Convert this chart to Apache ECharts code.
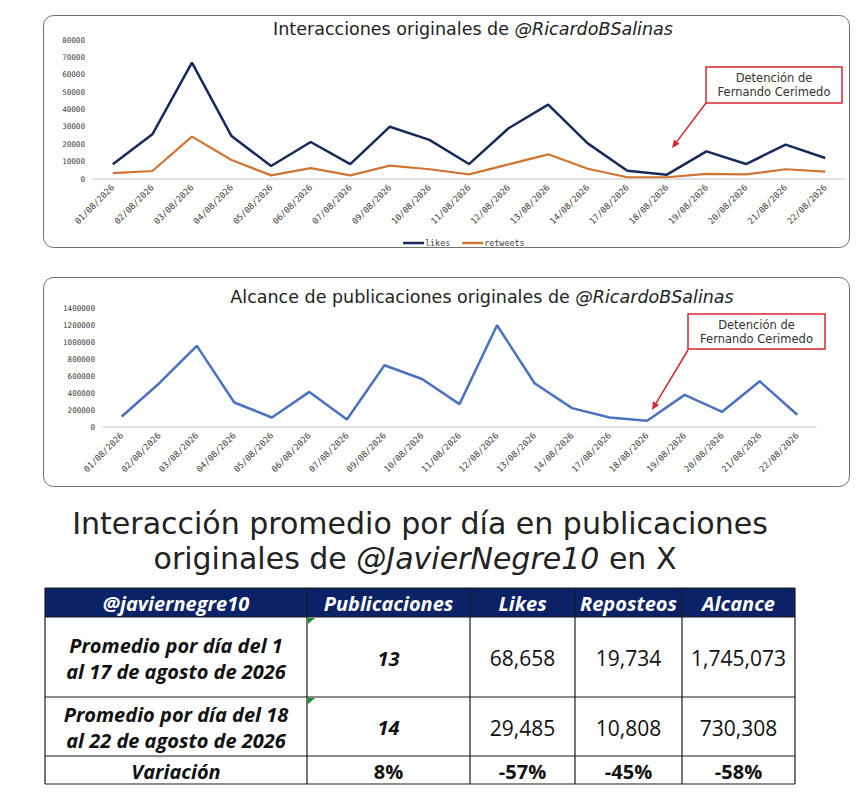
<!DOCTYPE html>
<html>
<head>
<meta charset="utf-8">
<script src="https://cdn.jsdelivr.net/npm/echarts@6/dist/echarts.min.js"></script>
<style>
  html, body { margin: 0; padding: 0; background: #fff; }
  #main { width: 867px; height: 800px; }
</style>
</head>
<body>
<div id="main"></div>
<script>
// fechas del eje x (no hay 08, 15 ni 16)
const dates = ['01/08/2026', '02/08/2026', '03/08/2026', '04/08/2026', '05/08/2026', '06/08/2026', '07/08/2026',
  '09/08/2026', '10/08/2026', '11/08/2026', '12/08/2026', '13/08/2026', '14/08/2026', '17/08/2026',
  '18/08/2026', '19/08/2026', '20/08/2026', '21/08/2026', '22/08/2026']

// interacciones
const likes = [8500, 25700, 67000, 24700, 7500, 21300, 8600, 30100, 22500, 8600, 29200, 42800, 20500, 4800, 2500, 15900, 8600, 19800, 12100]
const retweets = [3400, 4600, 24400, 10900, 2100, 6300, 2100, 7700, 5600, 2700, 8400, 14200, 5900, 1000, 1000, 3000, 2700, 5600, 4200]

// alcance
const alcance = [124000, 515000, 955000, 288000, 112000, 413000, 89000, 726000, 565000, 269000, 1197000, 515000, 222000, 112000, 74000, 378000, 179000, 538000, 144000]

// tabla
const tableHeader = ['@javiernegre10', 'Publicaciones', 'Likes', 'Reposteos', 'Alcance']
const rowLabels = [
  ['Promedio por día del 1', 'al 17 de agosto de 2026'],
  ['Promedio por día del 18', 'al 22 de agosto de 2026'],
  ['Variación']
]
const publicaciones = ['13', '14', '8%']
const likesAvg = ['68,658', '29,485', '-57%']
const reposteos = ['19,734', '10,808', '-45%']
const alcanceAvg = ['1,745,073', '730,308', '-58%']

const mono = 'DejaVu Sans Mono'
const sans = 'DejaVu Sans'
const axisGray = '#404040'
const red = '#d9252f'

const chart = echarts.init(document.getElementById('main'), null, { renderer: 'svg' })

// flecha roja de la anotación
function arrow(x1, y1, x2, y2) {
  const ang = Math.atan2(y2 - y1, x2 - x1)
  const len = 8
  const w = 3.5
  const bx = x2 - len * Math.cos(ang)
  const by = y2 - len * Math.sin(ang)
  return [{
    type: 'line',
    shape: { x1, y1, x2: bx, y2: by },
    style: { stroke: red, lineWidth: 1.5 }
  }, {
    type: 'polygon',
    shape: {
      points: [
        [x2, y2],
        [bx + w * Math.sin(ang), by - w * Math.cos(ang)],
        [bx - w * Math.sin(ang), by + w * Math.cos(ang)]
      ]
    },
    style: { fill: red }
  }]
}

// cuadro de anotación
function noteBox(x, y, w, h) {
  return [{
    type: 'rect',
    shape: { x, y, width: w, height: h },
    style: { fill: '#fff', stroke: red, lineWidth: 1.5 },
    z: 10
  }, {
    type: 'text',
    x: x + w / 2,
    y: y + h / 2 - 7,
    style: {
      text: 'Detención de',
      align: 'center',
      verticalAlign: 'middle',
      font: '11.5px "DejaVu Sans"',
      fill: '#333'
    },
    z: 11
  }, {
    type: 'text',
    x: x + w / 2,
    y: y + h / 2 + 7,
    style: {
      text: 'Fernando Cerimedo',
      align: 'center',
      verticalAlign: 'middle',
      font: '11.5px "DejaVu Sans"',
      fill: '#333'
    },
    z: 11
  }]
}

// título con parte normal, usuario en cursiva y cola opcional
function titleText(x, y, pre, handle, size, post) {
  return {
    type: 'text',
    x,
    y,
    style: {
      text: `{n|${pre}}{i|${handle}}` + (post ? `{n|${post}}` : ''),
      align: 'center',
      verticalAlign: 'middle',
      rich: {
        n: { fontFamily: sans, fontSize: size, lineHeight: size, fill: '#222' },
        i: { fontFamily: sans, fontSize: size, lineHeight: size, fontStyle: 'italic', fill: '#222' }
      }
    }
  }
}

// construir la tabla con elementos gráficos
const colX = [45, 307, 470, 575, 682, 795]
const rowY = [588, 617, 697, 756, 784]
const tableEls = []

tableEls.push({
  type: 'rect',
  shape: { x: colX[0], y: rowY[0], width: colX[5] - colX[0], height: rowY[1] - rowY[0] },
  style: { fill: '#0b2266' }
})
// líneas horizontales
rowY.forEach(y => {
  tableEls.push({
    type: 'line',
    shape: { x1: colX[0], y1: y, x2: colX[5], y2: y },
    style: { stroke: '#1a1a1a', lineWidth: 1.2 }
  })
})
// líneas verticales
colX.forEach(x => {
  tableEls.push({
    type: 'line',
    shape: { x1: x, y1: rowY[0], x2: x, y2: rowY[4] },
    style: { stroke: '#1a1a1a', lineWidth: 1.2 }
  })
})
// encabezado
tableHeader.forEach((t, i) => {
  tableEls.push({
    type: 'text',
    x: (colX[i] + colX[i + 1]) / 2,
    y: (rowY[0] + rowY[1]) / 2 + 1,
    style: {
      text: t,
      align: 'center',
      verticalAlign: 'middle',
      font: 'italic bold 20px "Open Sans"',
      fill: '#fff'
    }
  })
})
// filas
const bodyCols = [publicaciones, likesAvg, reposteos, alcanceAvg]
rowLabels.forEach((lines, r) => {
  const cy = (rowY[r + 1] + rowY[r + 2]) / 2
  lines.forEach((line, k) => {
    const off = lines.length === 1 ? 0 : (k === 0 ? -13 : 13)
    tableEls.push({
      type: 'text',
      x: (colX[0] + colX[1]) / 2,
      y: cy + off + 1,
      style: {
        text: line,
        align: 'center',
        verticalAlign: 'middle',
        font: 'italic bold 20px "Open Sans"',
        fill: '#111'
      }
    })
  })
  bodyCols.forEach((col, c) => {
    let font = '21px "Open Sans"'
    if (c === 0) font = 'italic bold 20px "Open Sans"'
    if (r === 2) font = 'bold 20px "Open Sans"'
    tableEls.push({
      type: 'text',
      x: (colX[c + 1] + colX[c + 2]) / 2,
      y: cy + 1,
      style: {
        text: col[r],
        align: 'center',
        verticalAlign: 'middle',
        font,
        fill: '#111'
      }
    })
  })
})
// indicadores verdes de Excel
;[rowY[1], rowY[2]].forEach(y => {
  tableEls.push({
    type: 'polygon',
    shape: { points: [[colX[1] + 1, y + 1], [colX[1] + 8, y + 1], [colX[1] + 1, y + 7]] },
    style: { fill: '#1e8a2e' }
  })
})

const yLabel = {
  fontFamily: mono,
  fontSize: 7.6,
  color: axisGray,
  margin: 8,
  formatter: v => String(v)
}

const option = {
  animation: false,
  legend: {
    data: ['likes', 'retweets'],
    left: 398,
    top: 234,
    itemWidth: 21,
    itemHeight: 2.5,
    itemGap: 12,
    icon: 'rect',
    textStyle: { fontFamily: mono, fontSize: 8.4, color: axisGray, padding: [0, 0, 0, -4] }
  },
  grid: [
    { left: 93, right: 22, top: 40, height: 139 },
    { left: 103, right: 51, top: 308, height: 119 }
  ],
  xAxis: [0, 1].map(i => ({
    type: 'category',
    gridIndex: i,
    data: dates,
    boundaryGap: true,
    axisLine: { lineStyle: { color: '#d9d9d9', width: 1.5 } },
    axisTick: { show: false },
    axisLabel: { fontFamily: mono, fontSize: 8.6, color: axisGray, rotate: 45, interval: 0, margin: 7 }
  })),
  yAxis: [{
    type: 'value',
    gridIndex: 0,
    min: 0,
    max: 80000,
    interval: 10000,
    splitLine: { show: false },
    axisLine: { show: false },
    axisTick: { show: false },
    axisLabel: yLabel
  }, {
    type: 'value',
    gridIndex: 1,
    min: 0,
    max: 1400000,
    interval: 200000,
    splitLine: { show: false },
    axisLine: { show: false },
    axisTick: { show: false },
    axisLabel: yLabel
  }],
  series: [{
    name: 'likes',
    type: 'line',
    xAxisIndex: 0,
    yAxisIndex: 0,
    data: likes,
    showSymbol: false,
    lineStyle: { color: '#172a5c', width: 2.5 },
    itemStyle: { color: '#172a5c' }
  }, {
    name: 'retweets',
    type: 'line',
    xAxisIndex: 0,
    yAxisIndex: 0,
    data: retweets,
    showSymbol: false,
    lineStyle: { color: '#cf7533', width: 2.2 },
    itemStyle: { color: '#cf7533' }
  }, {
    name: 'alcance',
    type: 'line',
    xAxisIndex: 1,
    yAxisIndex: 1,
    data: alcance,
    showSymbol: false,
    lineStyle: { color: '#4a72c0', width: 2.5 },
    itemStyle: { color: '#4a72c0' }
  }],
  graphic: [
    // marcos de los gráficos
    {
      type: 'rect',
      shape: { x: 43.5, y: 15.5, width: 806, height: 232, r: 10 },
      style: { fill: 'none', stroke: '#6f6f6f', lineWidth: 1 },
      silent: true
    },
    {
      type: 'rect',
      shape: { x: 43.5, y: 277.5, width: 806, height: 209, r: 10 },
      style: { fill: 'none', stroke: '#6f6f6f', lineWidth: 1 },
      silent: true
    },
    titleText(473, 29, 'Interacciones originales de ', '@RicardoBSalinas', 17.5),
    titleText(482, 297, 'Alcance de publicaciones originales de ', '@RicardoBSalinas', 17.5),
    ...arrow(706, 103, 672, 148),
    ...noteBox(706, 67, 136, 36),
    ...arrow(688, 350, 652, 410),
    ...noteBox(688, 314, 137, 35),
    // título de la tabla
    {
      type: 'text',
      x: 420,
      y: 523,
      style: {
        text: 'Interacción promedio por día en publicaciones',
        align: 'center',
        verticalAlign: 'middle',
        font: '30px "DejaVu Sans"',
        lineHeight: 30,
        fill: '#222'
      }
    },
    titleText(415, 558, 'originales de ', '@JavierNegre10', 30, ' en X'),
    ...tableEls
  ]
}

chart.setOption(option)
</script>
</body>
</html>
